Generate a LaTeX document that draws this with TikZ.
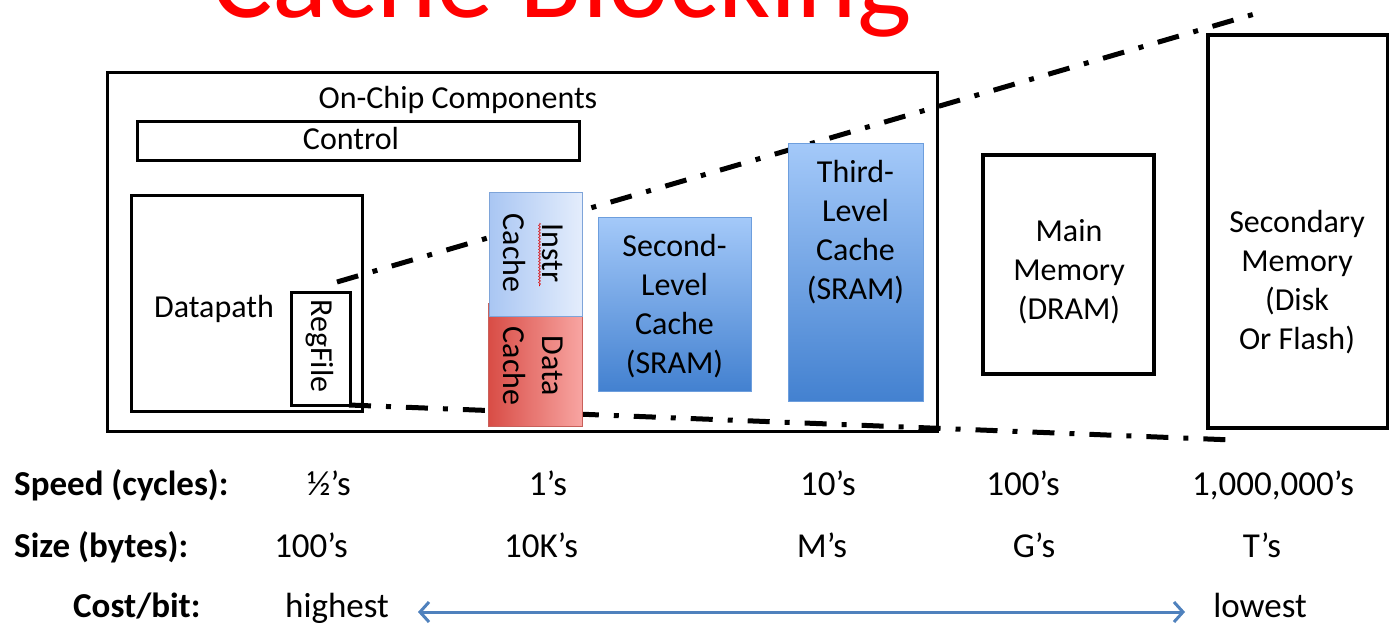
\documentclass[tikz,border=0pt]{standalone}
\usepackage{fontspec}
\setmainfont{Carlito}
\usetikzlibrary{arrows.meta,decorations.pathmorphing}
\definecolor{arrowblue}{HTML}{4F81BD}
\definecolor{instrL}{HTML}{A9C6F3}
\definecolor{instrR}{HTML}{E4EDFC}
\definecolor{instrB}{HTML}{7EA4D9}
\definecolor{dataL}{HTML}{D84C45}
\definecolor{dataR}{HTML}{F8A5A2}
\definecolor{dataB}{HTML}{C9605A}
\definecolor{cacheT}{HTML}{A4C9F9}
\definecolor{cacheB}{HTML}{4381D0}
\definecolor{cacheE}{HTML}{6D9EDD}
\begin{document}
\begin{tikzpicture}[x=1pt,y=-1pt,
  dtext/.style={font=\fontsize{32}{39}\selectfont, align=center, inner sep=0pt},
  btext/.style={font=\fontsize{35}{42}\selectfont, inner sep=0pt, anchor=base},
  blabel/.style={font=\fontsize{35}{42}\selectfont\bfseries, inner sep=0pt, anchor=base west},
  plainbox/.style={draw=black, line width=3pt, inner sep=0pt},
  memorybox/.style={draw=black, line width=3.5pt, inner sep=0pt},
  instrbox/.style={draw=instrB, line width=0.8pt, shading=axis, left color=instrL, right color=instrR, inner sep=0pt},
  databox/.style={draw=dataB, line width=0.8pt, shading=axis, left color=dataL, right color=dataR, inner sep=0pt},
  cachebox/.style={draw=cacheE, line width=0.8pt, shading=axis, top color=cacheT, bottom color=cacheB, inner sep=0pt},
  dashdotline/.style={line width=5pt, dash pattern=on 22pt off 15pt on 5pt off 15pt}
]
\useasboundingbox (0,0) rectangle (1389,626);

% title (cut off at top)
\node[font=\fontsize{115}{120}\selectfont, text=red, anchor=base west, inner sep=0pt] (title) at (211,18) {Cache Blocking};

% dash-dot lines (behind the caches)
\coordinate (upA) at (337,282);
\coordinate (upB) at (1258,13);
\coordinate (loA) at (349,405);
\coordinate (loB) at (1233,440);
\draw[dashdotline] (upA) -- (upB);
\draw[dashdotline] (loA) -- (loB);

% on-chip box
\node[plainbox, minimum width=830pt, minimum height=358pt] (chip) at (522,252) {};
\node[dtext] (chiplabel) at (458,100) {On-Chip Components};
\node[plainbox, minimum width=442pt, minimum height=39pt] (control) at (358,140.5) {};
\node[dtext] (controllabel) at (351,139) {Control};
\node[plainbox, minimum width=231pt, minimum height=216pt] (datapath) at (246.5,303) {};
\node[dtext] (dplabel) at (214,309) {Datapath};
\node[plainbox, minimum width=59pt, minimum height=113pt] (regfile) at (320.5,348.5) {};
\node[dtext, rotate=-90] (rflabel) at (320,346) {RegFile};

% L1 caches
\node[databox, minimum width=94pt, minimum height=123pt] (dcache) at (535,364.5) {};
\node[dtext, rotate=-90] (dclabel) at (533,366) {Data\\Cache};
\node[instrbox, minimum width=93pt, minimum height=124pt] (icache) at (535.5,254) {};
\node[dtext, rotate=-90] (iclabel) at (533,253) {Instr\\Cache};
\draw[red!85!black, line width=0.6pt, decorate, decoration={snake, amplitude=0.9pt, segment length=3pt}] (539.5,223) -- (539.5,286);

% L2 / L3
\node[cachebox, minimum width=153pt, minimum height=174pt] (l2) at (674.5,304) {};
\node[dtext] (l2label) at (674.5,306) {Second-\\Level\\Cache\\(SRAM)};
\node[cachebox, minimum width=135pt, minimum height=258pt] (l3) at (855.5,272) {};
\node[dtext, anchor=north] (l3label) at (855.5,160) {Third-\\Level\\Cache\\(SRAM)};

% memories
\node[memorybox, minimum width=171pt, minimum height=219pt] (mainmem) at (1068.5,264.5) {};
\node[dtext] (mmlabel) at (1069,272) {Main\\Memory\\(DRAM)};
\node[memorybox, minimum width=180pt, minimum height=393pt] (secmem) at (1298,231.5) {};
\node[dtext] (smlabel) at (1297,282) {Secondary\\Memory\\(Disk\\Or Flash)};

% bottom rows
\node[blabel] (speed) at (14,495) {Speed (cycles):};
\node[btext] (s1) at (329,495) {½’s};
\node[btext] (s2) at (548,495) {1’s};
\node[btext] (s3) at (828,495) {10’s};
\node[btext] (s4) at (1023,495) {100’s};
\node[btext] (s5) at (1273,495) {1,000,000’s};

\node[blabel] (size) at (14,557) {Size (bytes):};
\node[btext] (z1) at (311,557) {100’s};
\node[btext] (z2) at (541,557) {10K’s};
\node[btext] (z3) at (822,557) {M’s};
\node[btext] (z4) at (1034,557) {G’s};
\node[btext] (z5) at (1262,557) {T’s};

\node[blabel] (cost) at (73,617) {Cost/bit:};
\node[btext] (high) at (337,617) {highest};
\node[btext] (low) at (1260,617) {lowest};
\coordinate (arA) at (418,612);
\coordinate (arB) at (1185,612);
\draw[arrowblue, line width=3pt, {Straight Barb[length=9pt,width=20pt]}-{Straight Barb[length=9pt,width=20pt]}] (arA) -- (arB);
\end{tikzpicture}
\end{document}
